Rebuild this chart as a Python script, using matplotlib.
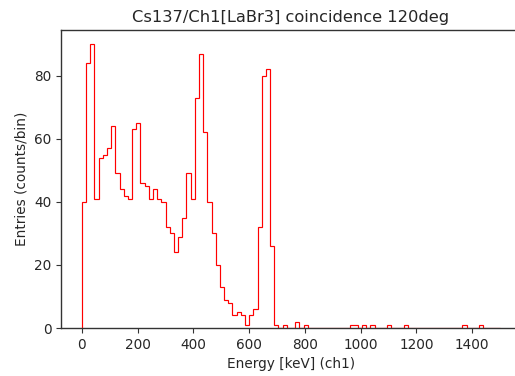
import numpy as np
import matplotlib
matplotlib.use("Agg")
import matplotlib.pyplot as plt

# Bin edges (keV): 100 bins of 15 keV from 0 to 1500
bin_edges = np.arange(0, 1501, 15)

# Counts per bin
counts = np.zeros(100)
counts_head = [40, 84, 90, 41, 54, 55, 57, 64, 49, 44,
               42, 41, 63, 65, 46, 45, 41, 44, 41, 40,
               32, 30, 24, 29, 35, 49, 41, 73, 87, 62,
               40, 30, 20, 13, 9, 8, 4, 5, 4, 1,
               4, 6, 32, 80, 82, 26, 1, 0, 1, 0,
               0, 2, 0, 1]
counts[:len(counts_head)] = counts_head
tail_bins = [64, 65, 67, 69, 73, 77, 91, 95]
tail_counts = [1, 1, 1, 1, 1, 1, 1, 1]
for b, c in zip(tail_bins, tail_counts):
    counts[b] = c

centers = 0.5 * (bin_edges[:-1] + bin_edges[1:])

fig = plt.figure(figsize=(5.15, 3.76), dpi=100)
ax = fig.add_axes([61 / 515, 48 / 376, 460 / 515, 298 / 376])
ax.hist(centers, bins=bin_edges, weights=counts, histtype="step",
        color="red", linewidth=0.85)

for s in ax.spines.values():
    s.set_color("#333333")
    s.set_linewidth(1.0)
ax.tick_params(color="#333333", labelcolor="#262626", labelsize=9.8)

ax.set_title("Cs137/Ch1[LaBr3] coincidence 120deg", fontsize=11.7,
             color="#262626")
ax.set_xlabel("Energy [keV] (ch1)", fontsize=9.8, color="#262626")
ax.set_ylabel("Entries (counts/bin)", fontsize=9.8, color="#262626")
ax.set_xticks([0, 200, 400, 600, 800, 1000, 1200, 1400])
ax.set_yticks([0, 20, 40, 60, 80])

fig.savefig("out.png", dpi=100)
